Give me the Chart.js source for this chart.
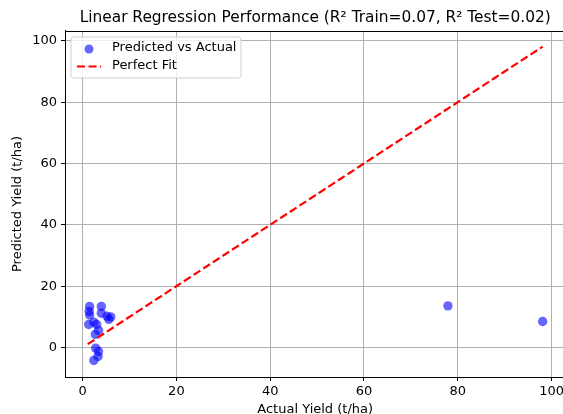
<!DOCTYPE html>
<html>
<head>
<meta charset="utf-8">
<script src="https://cdn.jsdelivr.net/npm/chart.js@4.4.1/dist/chart.umd.min.js"></script>
<style>
  html, body { margin: 0; padding: 0; background: #fff; overflow: hidden; }
  #wrap { width: 567px; height: 414px; }
</style>
</head>
<body>
<div id="wrap"><canvas id="chart1"></canvas></div>
<script>
// test set: actual vs predicted yield (t/ha)
const actualYield = [1.5, 4.0, 1.4, 1.5, 4.0, 5.2, 6.0, 5.6, 1.3, 2.4, 3.0, 3.4, 2.7, 2.8, 3.4, 3.3, 2.4, 77.9, 98.1];
const predictedYield = [13.4, 13.4, 11.8, 10.6, 11.2, 10.2, 10.0, 9.2, 7.5, 8.3, 7.5, 5.6, 4.3, -0.2, -1.3, -2.9, -4.2, 13.6, 8.5];
const perfectFit = [1.1, 98.1];
const xTickValues = [0, 20, 40, 60, 80, 100];
const yTickValues = [0, 20, 40, 60, 80, 100];

const titleText = 'Linear Regression Performance (R\u00b2 Train=0.07, R\u00b2 Test=0.02)';
const font = 'DejaVu Sans';

// box around plot + legend in matplotlib style
const frame = {
    id: 'frame',
    afterDraw(chart) {
        const ctx = chart.ctx;
        const a = chart.chartArea;
        ctx.save();
        ctx.strokeStyle = '#000';
        ctx.lineWidth = 1;
        ctx.strokeRect(Math.round(a.left) + 0.5, Math.round(a.top) + 0.5,
            Math.round(a.right - a.left), Math.round(a.bottom - a.top));

        // legend
        const lx = a.left + 6, ly = a.top + 6, lw = 170, lh = 41;
        ctx.beginPath();
        ctx.roundRect(lx, ly, lw, lh, 3);
        ctx.fillStyle = 'rgba(255,255,255,0.8)';
        ctx.fill();
        ctx.strokeStyle = '#d0d0d0';
        ctx.stroke();

        ctx.beginPath();
        ctx.arc(lx + 18, ly + 12, 4.5, 0, Math.PI * 2);
        ctx.fillStyle = 'rgba(0,0,255,0.6)';
        ctx.fill();

        ctx.beginPath();
        ctx.setLineDash([8, 3.5]);
        ctx.moveTo(lx + 6, ly + 29.5);
        ctx.lineTo(lx + 30, ly + 29.5);
        ctx.strokeStyle = 'red';
        ctx.lineWidth = 2.2;
        ctx.stroke();
        ctx.setLineDash([]);

        ctx.fillStyle = '#000';
        ctx.font = '13px "' + font + '"';
        ctx.textBaseline = 'middle';
        ctx.textAlign = 'left';
        ctx.fillText('Predicted vs Actual', lx + 41, ly + 11);
        ctx.fillText('Perfect Fit', lx + 41, ly + 29);
        ctx.restore();
    }
};

const points = actualYield.map((x, i) => ({ x: x, y: predictedYield[i] }));
const fitLine = perfectFit.map(v => ({ x: v, y: v }));

new Chart(document.getElementById('chart1'), {
    type: 'scatter',
    data: {
        datasets: [
            {
                label: 'Perfect Fit',
                type: 'line',
                data: fitLine,
                borderColor: 'red',
                borderWidth: 2.2,
                borderDash: [8, 3.5],
                pointRadius: 0,
                fill: false,
                order: 0
            },
            {
                label: 'Predicted vs Actual',
                data: points,
                backgroundColor: 'rgba(0,0,255,0.6)',
                borderWidth: 0,
                pointRadius: 4.7,
                order: 1
            }
        ]
    },
    options: {
        responsive: true,
        maintainAspectRatio: false,
        animation: false,
        layout: { autoPadding: false, padding: { left: 0, right: 0, top: 0, bottom: 0 } },
        plugins: {
            legend: { display: false },
            tooltip: { enabled: false },
            title: {
                display: true,
                text: titleText,
                fullSize: false,
                color: '#000',
                font: { family: font, size: 15.4, weight: 'normal' },
                padding: { top: 9, bottom: 3.5 }
            }
        },
        scales: {
            x: {
                type: 'linear',
                min: -3.75,
                max: 102.95,
                afterBuildTicks: s => { s.ticks = xTickValues.map(v => ({ value: v })); },
                afterFit: s => { s.height = 37; },
                grid: { color: '#b0b0b0', tickColor: '#000', tickLength: 4 },
                border: { color: '#000' },
                ticks: { color: '#000', padding: 3, font: { family: font, size: 13 } },
                title: {
                    display: true,
                    text: 'Actual Yield (t/ha)',
                    color: '#000',
                    font: { family: font, size: 13 },
                    padding: { top: 0, bottom: -3 }
                }
            },
            y: {
                type: 'linear',
                min: -9.6,
                max: 103.2,
                afterBuildTicks: s => { s.ticks = yTickValues.map(v => ({ value: v })); },
                afterFit: s => { s.width = 65; },
                grid: { color: '#b0b0b0', tickColor: '#000', tickLength: 4 },
                border: { color: '#000' },
                ticks: { color: '#000', padding: 4, font: { family: font, size: 13 } },
                title: {
                    display: true,
                    text: 'Predicted Yield (t/ha)',
                    color: '#000',
                    font: { family: font, size: 13 },
                    padding: { top: 10, bottom: 0 }
                }
            }
        }
    },
    plugins: [frame]
});
</script>
</body>
</html>
